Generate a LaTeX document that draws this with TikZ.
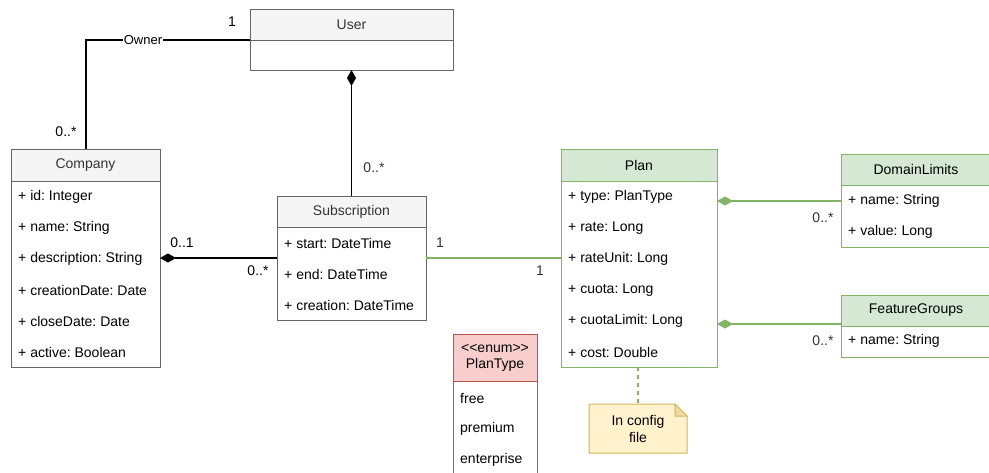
\documentclass[tikz,border=0pt]{standalone}
\usepackage{fontspec}
\setmainfont{Liberation Sans}
\usetikzlibrary{arrows.meta}
\frenchspacing

\definecolor{grayfill}{HTML}{F5F5F5}
\definecolor{graydraw}{HTML}{666666}
\definecolor{graytext}{HTML}{333333}
\definecolor{greenfill}{HTML}{D5E8D4}
\definecolor{greendraw}{HTML}{82B366}
\definecolor{redfill}{HTML}{F8CECC}
\definecolor{reddraw}{HTML}{B85450}
\definecolor{notefill}{HTML}{FFF2CC}
\definecolor{notedraw}{HTML}{D6B656}

\tikzset{
  box/.style={rectangle, inner sep=0pt, outer sep=0pt, line width=1pt, anchor=north west},
  grayhdr/.style={box, draw=graydraw, fill=grayfill},
  graybody/.style={box, draw=graydraw, fill=white},
  greenhdr/.style={box, draw=greendraw, fill=greenfill},
  greenbody/.style={box, draw=greendraw, fill=white},
  redhdr/.style={box, draw=reddraw, fill=redfill},
  redbody/.style={box, draw=reddraw, fill=white},
  row/.style={anchor=west, inner sep=0pt},
  mult/.style={inner sep=0pt},
  assoc/.style={line width=1.1pt, draw=black},
  gassoc/.style={line width=1.1pt, draw=greendraw},
  comp/.style={assoc, {Diamond[length=16pt,width=9pt]}-},
  gcomp/.style={gassoc, {Diamond[length=16pt,width=9pt,fill=greendraw]}-},
}

\begin{document}
\begin{tikzpicture}[x=1pt,y=-1pt, font=\fontsize{14pt}{16pt}\selectfont]
\useasboundingbox (0,0) rectangle (989,472);

% ---- User ----
\node[grayhdr, minimum width=203pt, minimum height=31pt] (userH) at (250,9) {};
\node[text=graytext] at (userH.center) {User};
\node[graybody, minimum width=203pt, minimum height=30pt] (userB) at (250,40) {};

% ---- Company ----
\node[grayhdr, minimum width=149pt, minimum height=32pt] (compH) at (11,149) {};
\node[text=graytext] at (compH.center) {Company};
\node[graybody, minimum width=149pt, minimum height=186pt] (compB) at (11,181) {};
\node[row] (c1) at (18,197) {+ id: Integer};
\node[row] (c2) at (18,228) {+ name: String};
\node[row] (c3) at (18,259) {+ description: String};
\node[row] (c4) at (18,290) {+ creationDate: Date};
\node[row] (c5) at (18,321) {+ closeDate: Date};
\node[row] (c6) at (18,352) {+ active: Boolean};

% ---- Subscription ----
\node[grayhdr, minimum width=149pt, minimum height=31pt] (subH) at (277,196) {};
\node[text=graytext] at (subH.center) {Subscription};
\node[graybody, minimum width=149pt, minimum height=93pt] (subB) at (277,227) {};
\node[row] (s1) at (284,243) {+ start: DateTime};
\node[row] (s2) at (284,274) {+ end: DateTime};
\node[row] (s3) at (284,305) {+ creation: DateTime};

% ---- Plan ----
\node[greenhdr, minimum width=156pt, minimum height=32pt] (planH) at (561,149) {};
\node at (planH.center) {Plan};
\node[greenbody, minimum width=156pt, minimum height=186pt] (planB) at (561,181) {};
\node[row] (p1) at (568,197) {+ type: PlanType};
\node[row] (p2) at (568,228) {+ rate: Long};
\node[row] (p3) at (568,259) {+ rateUnit: Long};
\node[row] (p4) at (568,290) {+ cuota: Long};
\node[row] (p5) at (568,321) {+ cuotaLimit: Long};
\node[row] (p6) at (568,352) {+ cost: Double};

% ---- DomainLimits ----
\node[greenhdr, minimum width=150pt, minimum height=31pt] (domH) at (841,154) {};
\node at (domH.center) {DomainLimits};
\node[greenbody, minimum width=150pt, minimum height=62pt] (domB) at (841,185) {};
\node[row] (d1) at (848,201) {+ name: String};
\node[row] (d2) at (848,232) {+ value: Long};

% ---- FeatureGroups ----
\node[greenhdr, minimum width=150pt, minimum height=31pt] (featH) at (841,295) {};
\node at (featH.center) {FeatureGroups};
\node[greenbody, minimum width=150pt, minimum height=31pt] (featB) at (841,326) {};
\node[row] (f1) at (848,341) {+ name: String};

% ---- PlanType enumeration ----
\node[redhdr, minimum width=84pt, minimum height=47pt] (enumH) at (453,334) {};
\node[align=center, font=\fontsize{14pt}{16pt}\selectfont] at (enumH.center) {<{}<enum>{}>\\PlanType};
\node[redbody, minimum width=84pt, minimum height=100pt] (enumB) at (453,381) {};
\node[row] (e1) at (460,398) {free};
\node[row] (e2) at (460,429) {premium};
\node[row] (e3) at (460,460) {enterprise};

% ---- Note ----
\coordinate (nTop) at (638,404);
\draw[line width=1pt, draw=notedraw, fill=notefill]
  (589,404) -- (675,404) -- (687,416) -- (687,453) -- (589,453) -- cycle;
\draw[line width=1pt, draw=notedraw, fill=notedraw!40!notefill]
  (675,404) -- (675,416) -- (687,416) -- cycle;
\node[align=center, font=\fontsize{14pt}{17pt}\selectfont] (note) at (638,428.5) {In config\\file};

% ---- Connectors ----
% User -- Company (Owner)
\coordinate (ownBend) at (86,40);
\draw[assoc] (userH.south west) -- (ownBend) -- (compH.north -| ownBend);
\node[fill=white, inner sep=1pt, font=\fontsize{13pt}{15pt}\selectfont] (ownLbl) at (143,40) {Owner};
\node[mult] at (232,22) {1};
\node[mult] at (66,132) {0..*};

% User <>-- Subscription
\draw[comp] (userB.south) -- (subH.north);
\node[mult, text=graytext] at (374,168) {0..*};

% Company <>-- Subscription
\coordinate (compR) at (160,258);
\draw[comp] (compR) -- (subB.west |- compR);
\node[mult] at (182,243) {0..1};
\node[mult] at (258,271) {0..*};

% Subscription -- Plan
\draw[gassoc] (subB.east |- compR) -- (planB.west |- compR);
\node[mult, text=graytext] at (440,243) {1};
\node[mult, text=graytext] at (540,271) {1};

% Plan <>-- DomainLimits, FeatureGroups
\coordinate (pd) at (717,201);
\coordinate (pf) at (717,324);
\draw[gcomp] (pd) -- (domB.west |- pd);
\draw[gcomp] (pf) -- (featB.west |- pf);
\node[mult, text=graytext] at (823,218) {0..*};
\node[mult, text=graytext] at (823,341) {0..*};

% Plan .. Note
\draw[gassoc, dash pattern=on 4pt off 4pt] (planB.south -| nTop) -- (nTop);
\end{tikzpicture}
\end{document}
